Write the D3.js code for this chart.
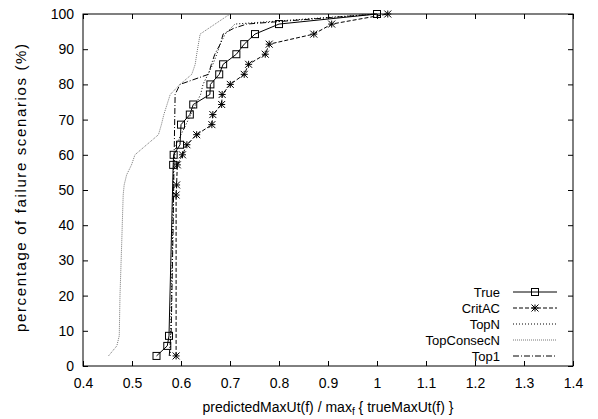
<!DOCTYPE html>
<html><head><meta charset="utf-8">
<script src="https://cdn.jsdelivr.net/npm/d3@7"></script>
<style>
body{margin:0;background:#fff}
text{font-family:"Liberation Sans",Arial,Helvetica,sans-serif;fill:#000}
</style>
</head><body>
<svg id="chart" width="598" height="419"></svg>
<script>
// ---- data ----
const xTicks = [0.4,0.5,0.6,0.7,0.8,0.9,1.0,1.1,1.2,1.3,1.4];
const xTickLabels = ["0.4","0.5","0.6","0.7","0.8","0.9","1","1.1","1.2","1.3","1.4"];
const yTicks = [0,10,20,30,40,50,60,70,80,90,100];
const seriesNames = ["True","CritAC","TopN","TopConsecN","Top1"];

const trueX = [0.550,0.572,0.5755,0.584,0.585,0.598,0.600,0.618,0.625,0.659,0.660,0.678,0.686,0.713,0.729,0.751,0.800,1.000];
const trueY = [2.86,5.71,8.57,57.14,60.00,62.86,68.57,71.43,74.29,77.14,80.00,82.86,85.71,88.57,91.43,94.29,97.14,100];

const critX = [0.590,0.590,0.591,0.5925,0.603,0.612,0.632,0.663,0.665,0.683,0.684,0.7006,0.729,0.738,0.772,0.780,0.871,0.9075,1.022];
const critY = [2.86,48.57,51.43,57.14,60.00,62.86,65.71,68.57,71.43,74.29,77.14,80.00,82.86,85.71,88.57,91.43,94.29,97.14,100];

const topNX = [0.578,0.582,0.585,0.590,0.600,0.620,0.640,0.645,0.655,0.665,0.673,0.680,0.690,0.710,1.000];
const topNY = [2.86,30.00,57.14,62.86,65.71,71.43,77.14,80.00,82.86,85.71,88.57,91.43,94.29,97.14,100];

const consecX = [0.452,0.469,0.474,0.4755,0.479,0.482,0.484,0.489,0.499,0.506,0.530,0.554,0.560,0.565,0.578,0.598,0.622,0.629,0.632,0.639,0.700];
const consecY = [2.86,5.71,8.57,20.00,35.00,48.57,51.43,54.29,57.14,60.00,62.86,65.71,68.57,71.43,77.14,80.00,82.86,85.71,88.57,94.29,100];

const top1X = [0.576,0.580,0.584,0.586,0.588,0.598,0.656,0.662,0.669,0.680,0.686,0.707,0.734,1.000];
const top1Y = [2.86,10.00,40.00,60.00,77.14,80.00,82.86,85.71,88.57,91.43,94.29,95.90,97.14,100];

// ---- layout / styles ----
const svg = d3.select("#chart");
const L = 83, R = 573, T = 14, B = 366;
const x = d3.scaleLinear().domain([0.4,1.4]).range([L,R]);
const y = d3.scaleLinear().domain([0,100]).range([B,T]);
const FS = 14;

const styles = {
  "True":       {stroke:"#000", dash:null,        marker:"square"},
  "CritAC":     {stroke:"#000", dash:"4,2",       marker:"star"},
  "TopN":       {stroke:"#000", dash:"1,2",       marker:null},
  "TopConsecN": {stroke:"#777", dash:"1,1",       marker:null},
  "Top1":       {stroke:"#000", dash:"6,2,1,2",   marker:null}
};
const seriesData = {
  "True": d3.zip(trueX,trueY),
  "CritAC": d3.zip(critX,critY),
  "TopN": d3.zip(topNX,topNY),
  "TopConsecN": d3.zip(consecX,consecY),
  "Top1": d3.zip(top1X,top1Y)
};

// axes
const fmtX = d => xTickLabels[xTicks.indexOf(d)];
const gx = svg.append("g").attr("transform",`translate(0,${B})`)
  .call(d3.axisBottom(x).tickValues(xTicks).tickFormat(fmtX).tickSize(-5).tickPadding(12));
const gxt = svg.append("g").attr("transform",`translate(0,${T})`)
  .call(d3.axisTop(x).tickValues(xTicks).tickFormat("").tickSize(-5));
const gy = svg.append("g").attr("transform",`translate(${L},0)`)
  .call(d3.axisLeft(y).tickValues(yTicks).tickSize(-5).tickPadding(9));
const gyr = svg.append("g").attr("transform",`translate(${R},0)`)
  .call(d3.axisRight(y).tickValues(yTicks).tickFormat("").tickSize(-5));
[gx,gxt,gy,gyr].forEach(g=>{
  g.select(".domain").remove();
  g.selectAll(".tick line").attr("stroke","#000");
  g.selectAll("text").style("font-size",FS+"px").attr("fill","#000");
});

// border
svg.append("rect").attr("x",L).attr("y",T).attr("width",R-L).attr("height",B-T)
  .attr("fill","none").attr("stroke","#000").attr("stroke-width",1);

// markers
function drawMarker(g, type, cx, cy){
  if(type==="square"){
    g.append("rect").attr("x",cx-3.5).attr("y",cy-3.5).attr("width",7).attr("height",7)
      .attr("fill","none").attr("stroke","#000").attr("stroke-width",1);
  } else if(type==="star"){
    const s=3.5;
    g.append("path").attr("d",`M${cx-s},${cy}H${cx+s}M${cx},${cy-s}V${cy+s}M${cx-s},${cy-s}L${cx+s},${cy+s}M${cx-s},${cy+s}L${cx+s},${cy-s}`)
      .attr("stroke","#000").attr("stroke-width",1).attr("fill","none");
  }
}

const line = d3.line().x(d=>x(d[0])).y(d=>y(d[1]));
const plot = svg.append("g");
[...seriesNames].reverse().forEach(name=>{
  const st = styles[name];
  const g = plot.append("g");
  g.append("path").datum(seriesData[name]).attr("d",line)
    .attr("fill","none").attr("stroke",st.stroke).attr("stroke-width",1)
    .attr("stroke-dasharray",st.dash);
  if(st.marker) seriesData[name].forEach(d=>drawMarker(g,st.marker,x(d[0]),y(d[1])));
});

// legend
const LFS = 13;
const legY0 = 292, legDy = 16, legTextX = 500, legL1 = 513, legL2 = 557;
seriesNames.forEach((name,i)=>{
  const st = styles[name];
  const yy = legY0 + i*legDy;
  const g = svg.append("g");
  g.append("text").attr("x",legTextX).attr("y",yy).attr("dy","0.35em")
    .attr("text-anchor","end").style("font-size",LFS+"px").text(name);
  g.append("line").attr("x1",legL1).attr("x2",legL2).attr("y1",yy).attr("y2",yy)
    .attr("stroke",st.stroke).attr("stroke-width",1).attr("stroke-dasharray",st.dash);
  if(st.marker) drawMarker(g,st.marker,(legL1+legL2)/2,yy);
});

// axis titles
const xt = svg.append("text").attr("x",(L+R)/2).attr("y",412).attr("text-anchor","middle")
  .style("font-size",FS+"px");
xt.append("tspan").text("predictedMaxUt(f) / max");
xt.append("tspan").attr("dy",3).style("font-size","10px").text("f");
xt.append("tspan").attr("dy",-3).text(" { trueMaxUt(f) }");

svg.append("text").attr("transform",`translate(21,188) rotate(-90)`)
  .attr("text-anchor","middle").attr("dy","0.35em").style("font-size","15px")
  .attr("textLength",288).attr("lengthAdjust","spacing")
  .text("percentage of failure scenarios (%)");
</script>
</body></html>
